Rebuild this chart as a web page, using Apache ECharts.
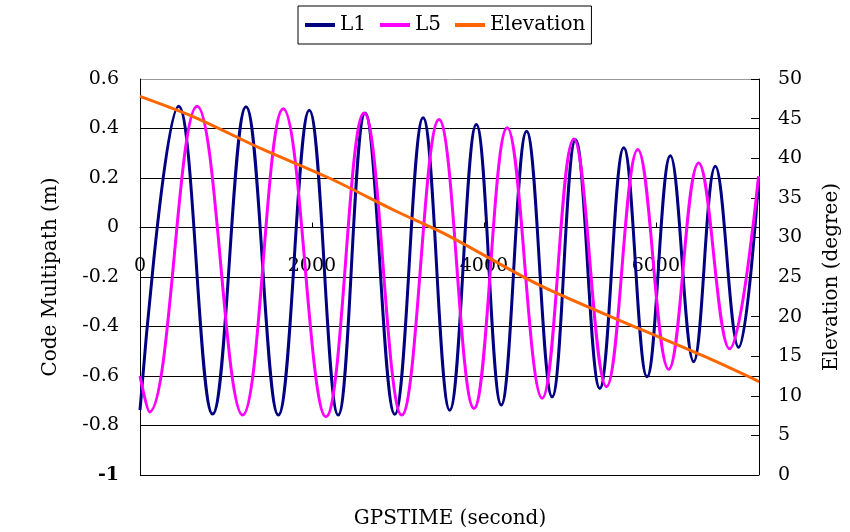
<!DOCTYPE html>
<html>
<head>
<meta charset="utf-8">
<title>Code Multipath</title>
<script src="https://cdn.jsdelivr.net/npm/echarts@6/dist/echarts.min.js"></script>
<style>
html,body{margin:0;padding:0;background:#fff;}
#chart{width:850px;height:532px;}
</style>
</head>
<body>
<div id="chart"></div>
<script>
/*L1 码多径 [GPSTIME(s), m]*/
var l1Data = [
    [0,-0.738],[450,0.49],[845,-0.754],[1233,0.488],[1609,-0.758],[1969,0.474],
    [2305,-0.758],[2619,0.463],[2964,-0.755],[3293,0.443],[3603,-0.738],[3912,0.416],
    [4202,-0.717],[4497,0.389],[4794,-0.684],[5066,0.355],[5348,-0.65],[5627,0.322],
    [5898,-0.603],[6169,0.29],[6440,-0.542],[6692,0.247],[6963,-0.484],[7195,0.19]
];

/*L5 码多径*/
var l5Data = [
    [0,-0.6],[110,-0.745],[664,0.49],[1194,-0.758],[1667,0.48],[2163,-0.765],
    [2607,0.463],[3045,-0.758],[3478,0.436],[3885,-0.731],[4272,0.403],[4678,-0.69],
    [5046,0.358],[5426,-0.643],[5790,0.315],[6150,-0.573],[6498,0.261],[6858,-0.49],
    [7195,0.207]
];

/*高度角 (degree)*/
var elevationData = [
    [0,47.8],[650,45.1],[1430,41.1],[2200,37.5],[2980,33.3],[3590,30.2],
    [4640,24.0],[5800,18.5],[6580,14.9],[7200,11.8]
];

var seriesNames = ['L1', 'L5', 'Elevation'];
var xRange = [0, 7200, 2000];
var leftRange = [-1, 0.6, 0.2];
var rightRange = [0, 50, 5];

var serif = 'DejaVu Serif';

function load() {
    var myChart = echarts.init(document.getElementById('chart'));
    var gridTop = 79, gridBottom = 57;
    var plotH = 532 - gridTop - gridBottom;
    /*x轴放在 y=0 处 (Excel 样式)*/
    var zeroOffset = -plotH * (0 - leftRange[0]) / (leftRange[1] - leftRange[0]);
    /*网格线: 最上面一条是灰色*/
    var gridColors = ['#000', '#000', '#000', '#000', '#000', '#000', '#000', '#000', '#999'];
    var option = {
        animation: false,
        backgroundColor: '#fff',
        legend: {
            data: seriesNames,
            left: 298,
            top: 6,
            padding: [9, 6, 9, 7],
            itemGap: 14,
            itemWidth: 30,
            itemHeight: 4,
            icon: 'rect',
            borderColor: '#000',
            borderWidth: 1,
            textStyle: {fontFamily: serif, fontSize: 20, color: '#000'}
        },
        grid: {left: 140, right: 89, top: gridTop, bottom: gridBottom},
        xAxis: {
            type: 'value',
            min: xRange[0],
            max: xRange[1],
            interval: xRange[2],
            offset: zeroOffset,
            axisLine: {onZero: false, lineStyle: {color: '#000', width: 1}},
            axisTick: {inside: true, length: 5, lineStyle: {color: '#000'}},
            axisLabel: {
                margin: 29,
                fontFamily: serif,
                fontSize: 19,
                color: '#000',
                formatter: function (v) { return v % xRange[2] === 0 ? v : ''; }
            },
            splitLine: {show: false}
        },
        yAxis: [{
            type: 'value',
            position: 'left',
            min: leftRange[0],
            max: leftRange[1],
            interval: leftRange[2],
            axisLine: {show: true, lineStyle: {color: '#000', width: 1}},
            axisTick: {show: false},
            axisLabel: {
                margin: 21,
                fontFamily: serif,
                fontSize: 19,
                color: '#000',
                formatter: function (v) { return v === -1 ? '{b|-1}' : v; },
                rich: {b: {fontFamily: serif, fontSize: 19, fontWeight: 'bold', color: '#000'}}
            },
            splitLine: {show: true, lineStyle: {color: gridColors, width: 1}},
            name: 'Code Multipath (m)',
            nameLocation: 'middle',
            nameGap: 79,
            nameTextStyle: {fontFamily: serif, fontSize: 20, color: '#000'}
        }, {
            type: 'value',
            position: 'right',
            min: rightRange[0],
            max: rightRange[1],
            interval: rightRange[2],
            axisLine: {show: true, lineStyle: {color: '#000', width: 1}},
            axisTick: {show: true, inside: true, length: 8, lineStyle: {color: '#000'}},
            axisLabel: {margin: 19, fontFamily: serif, fontSize: 19, color: '#000'},
            splitLine: {show: false},
            name: 'Elevation (degree)',
            nameLocation: 'middle',
            nameGap: 63,
            nameTextStyle: {fontFamily: serif, fontSize: 20, color: '#000'}
        }],
        graphic: [{
            type: 'text',
            x: 450,
            y: 519,
            style: {
                text: 'GPSTIME (second)',
                fontFamily: serif,
                fontSize: 20,
                fill: '#000',
                align: 'center',
                verticalAlign: 'middle'
            }
        }],
        series: [{
            name: seriesNames[0],
            type: 'line',
            yAxisIndex: 0,
            data: l1Data,
            symbol: 'none',
            smooth: 0.4,
            lineStyle: {width: 3, color: '#000080'},
            itemStyle: {color: '#000080'}
        }, {
            name: seriesNames[1],
            type: 'line',
            yAxisIndex: 0,
            data: l5Data,
            symbol: 'none',
            smooth: 0.4,
            lineStyle: {width: 3, color: '#ff00ff'},
            itemStyle: {color: '#ff00ff'}
        }, {
            name: seriesNames[2],
            type: 'line',
            yAxisIndex: 1,
            data: elevationData,
            symbol: 'none',
            smooth: 0.3,
            lineStyle: {width: 3, color: '#ff6600'},
            itemStyle: {color: '#ff6600'}
        }]
    };
    myChart.setOption(option);
}

load();
</script>
</body>
</html>
